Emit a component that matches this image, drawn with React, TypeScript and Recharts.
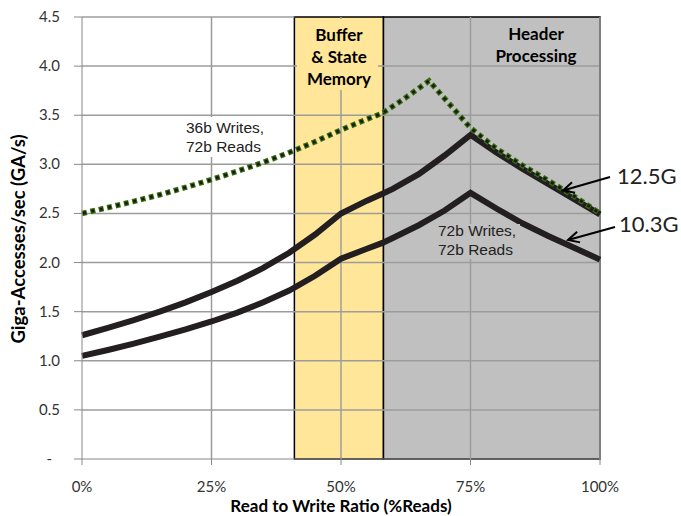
import { LineChart, Line, XAxis, YAxis, ReferenceArea, ReferenceLine } from 'recharts'

// % reads
const solidX = [0, 5, 10, 15, 20, 25, 30, 35, 40, 45, 50, 55, 58, 60, 65, 70, 75, 80, 85, 90, 95, 100]
const lowerGA = [1.05, 1.11, 1.175, 1.245, 1.32, 1.40, 1.49, 1.595, 1.715, 1.865, 2.04, 2.14, 2.20, 2.25, 2.38, 2.53, 2.71, 2.55, 2.40, 2.27, 2.15, 2.03]
const upperGA = [1.26, 1.335, 1.415, 1.50, 1.595, 1.70, 1.815, 1.945, 2.10, 2.285, 2.50, 2.63, 2.70, 2.75, 2.90, 3.09, 3.30, 3.12, 2.955, 2.80, 2.645, 2.49]
const dottedX = [0, 5, 10, 15, 20, 25, 30, 35, 40, 45, 50, 55, 58, 62, 67, 71, 75, 80, 85, 90, 95, 100]
const dottedGA = [2.50, 2.56, 2.623, 2.69, 2.765, 2.845, 2.93, 3.02, 3.12, 3.23, 3.35, 3.46, 3.52, 3.66, 3.85, 3.61, 3.37, 3.16, 2.99, 2.835, 2.675, 2.50]

const xTicks = [0, 25, 50, 75, 100]
const yTicks = [0, 0.5, 1, 1.5, 2, 2.5, 3, 3.5, 4, 4.5]
const bufferZone = [41, 58.2]
const headerZone = [58.2, 100]

const lowerData = solidX.map((x, i) => ({ x, v: lowerGA[i] }))
const upperData = solidX.map((x, i) => ({ x, v: upperGA[i] }))
const dottedData = dottedX.map((x, i) => ({ x, v: dottedGA[i] }))

const FONT = 'Lato, "Open Sans", sans-serif'
const GRID = '#9c9c9c'

function YTick({ x, y, payload }: any) {
  const v = payload.value
  return (
    <text x={v === 0 ? x - 8 : x} y={y} dy={5} textAnchor="end" fontSize={15} fontFamily={FONT} fill="#333">
      {v === 0 ? '-' : v.toFixed(1)}
    </text>
  )
}

export default function App() {
  return (
    <div style={{ position: 'absolute', left: 0, top: 0, width: 681, height: 516, background: '#fff' }}>
      <LineChart width={681} height={516} margin={{ top: 17, right: 81, left: 0, bottom: 0 }}>
        <XAxis
          type="number"
          dataKey="x"
          domain={[0, 100]}
          ticks={xTicks}
          tickFormatter={(v) => `${v}%`}
          height={57}
          tickSize={6}
          tickMargin={16}
          stroke="#888"
          tick={{ fontSize: 15, fontFamily: FONT, fill: '#333' }}
          label={{ value: 'Read to Write Ratio (%Reads)', position: 'insideBottom', offset: 4, style: { fontSize: 17, fontWeight: 700, fontFamily: FONT, fill: '#000' } }}
        />
        <YAxis
          type="number"
          domain={[0, 4.5]}
          ticks={yTicks}
          width={82}
          tickSize={8}
          tickMargin={14}
          stroke="#888"
          tick={<YTick />}
          label={{ value: 'Giga-Accesses/sec (GA/s)', angle: -90, position: 'insideLeft', offset: 18, dy: 1, style: { textAnchor: 'middle', fontSize: 18.5, fontWeight: 700, fontFamily: FONT, fill: '#000' } }}
        />
        <ReferenceArea x1={bufferZone[0]} x2={bufferZone[1]} y1={0} y2={4.5} fill="#FFE699" fillOpacity={1} stroke="#000" strokeWidth={1.5} />
        <ReferenceArea x1={headerZone[0]} x2={headerZone[1]} y1={0} y2={4.5} fill="#C0C0C0" fillOpacity={1} stroke="#000" strokeWidth={1.5} />
        {yTicks.filter((t) => t > 0 && t < 4.5).map((t) => (
          <ReferenceLine key={`h${t}`} y={t} stroke={GRID} strokeWidth={1.5} />
        ))}
        {xTicks.filter((t) => t > 0 && t < 100).map((t) => (
          <ReferenceLine key={`v${t}`} x={t} stroke={GRID} strokeWidth={1.5} />
        ))}
        <ReferenceLine segment={[{ x: 0, y: 4.5 }, { x: bufferZone[0], y: 4.5 }]} stroke={GRID} strokeWidth={1.5} />
        <ReferenceLine segment={[{ x: 100, y: 0 }, { x: 100, y: 4.5 }]} stroke="#7f7f7f" strokeWidth={2} />
        <Line data={lowerData} dataKey="v" type="linear" stroke="#231F20" strokeWidth={6} dot={false} isAnimationActive={false} />
        <Line data={upperData} dataKey="v" type="linear" stroke="#231F20" strokeWidth={6} dot={false} isAnimationActive={false} />
        <Line data={dottedData} dataKey="v" type="linear" stroke="#3d6b14" strokeWidth={5.5} strokeDasharray="5 3.6" dot={false} isAnimationActive={false} />
        <Line data={dottedData} dataKey="v" type="linear" stroke="#10200a" strokeWidth={3} strokeDasharray="3 5.6" strokeDashoffset={-1} dot={false} isAnimationActive={false} />
      </LineChart>

      <svg width={681} height={516} style={{ position: 'absolute', left: 0, top: 0, pointerEvents: 'none' }}>
        <defs>
          <marker id="arr" markerWidth={14} markerHeight={14} refX={12} refY={7} orient="auto" markerUnits="userSpaceOnUse">
            <path d="M1,1.5 L12,7 L1,12.5" fill="none" stroke="#000" strokeWidth={2} />
          </marker>
        </defs>
        <rect x={297} y={19} width={81} height={71} fill="#FFE699" />
        <g fontFamily={FONT} fontWeight={700} fontSize={17} fill="#000" textAnchor="middle">
          <text x={339} y={41}>Buffer</text>
          <text x={339} y={63}>&amp; State</text>
          <text x={339} y={85}>Memory</text>
          <text x={536} y={40}>Header</text>
          <text x={536} y={62}>Processing</text>
        </g>
        <rect x={182} y={117} width={88} height={40} fill="#fff" />
        <rect x={436} y={224} width={84} height={35} fill="#C0C0C0" />
        <g fontFamily='"Liberation Sans", Arial, sans-serif' fontSize={15.5} fill="#222">
          <text x={186} y={133}>36b Writes,</text>
          <text x={186} y={152}>72b Reads</text>
          <text x={438} y={236}>72b Writes,</text>
          <text x={438} y={255}>72b Reads</text>
        </g>
        <line x1={610} y1={177} x2={563} y2={190.5} stroke="#000" strokeWidth={2} markerEnd="url(#arr)" />
        <line x1={615} y1={227} x2={568} y2={240} stroke="#000" strokeWidth={2} markerEnd="url(#arr)" />
        <g fontFamily={FONT} fontSize={22} fill="#222">
          <text x={617} y={184}>12.5G</text>
          <text x={619} y={232}>10.3G</text>
        </g>
      </svg>
    </div>
  )
}
